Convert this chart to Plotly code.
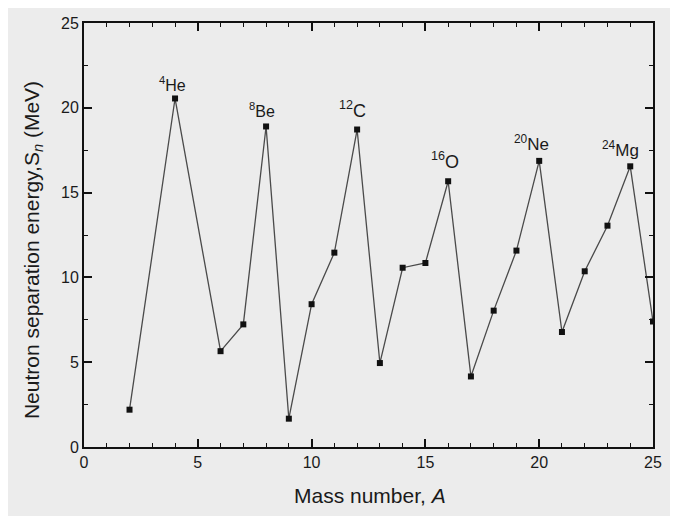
import plotly.graph_objects as go

mass_number = [2, 4, 6, 7, 8, 9, 10, 11, 12, 13, 14, 15, 16, 17, 18, 19, 20, 21, 22, 23, 24, 25]
sn_mev = [2.2, 20.55, 5.65, 7.23, 18.9, 1.67, 8.42, 11.46, 18.72, 4.95, 10.57, 10.85, 15.67,
          4.16, 8.04, 11.58, 16.87, 6.78, 10.36, 13.05, 16.55, 7.4]

label_text = ["<sup>4</sup>He", "<sup>8</sup>Be", "<sup>12</sup>C", "<sup>16</sup>O",
              "<sup>20</sup>Ne", "<sup>24</sup>Mg"]
label_x = [3.9, 7.8, 11.8, 15.85, 19.65, 23.55]
label_y = [21.4, 19.9, 19.9, 16.9, 17.9, 17.55]
label_size = [16, 16, 18, 18, 17, 17]

x_ticks = [0, 5, 10, 15, 20, 25]
y_ticks = [0, 5, 10, 15, 20, 25]

x_title = "Mass number, <i>A</i>"
y_title = "Neutron separation energy,S<sub><i>n</i></sub> (MeV)"

GRAY = "#ececec"
FONT = "Liberation Sans, Arial, sans-serif"
TXT = "#1a1a1a"

fig = go.Figure()
fig.add_trace(go.Scatter(
    x=mass_number, y=sn_mev, mode="lines+markers",
    line=dict(color="#4a4a4a", width=1.3),
    marker=dict(symbol="square", size=6, color="#111111"),
    showlegend=False,
))

for t, x, y, s in zip(label_text, label_x, label_y, label_size):
    fig.add_annotation(x=x, y=y, text=t, showarrow=False,
                       font=dict(family=FONT, size=s, color=TXT))

fig.add_annotation(xref="paper", yref="paper", x=0.503, y=-0.114, text=x_title,
                   showarrow=False, xanchor="center", yanchor="middle",
                   font=dict(family=FONT, size=21, color=TXT))
fig.add_annotation(xref="paper", yref="paper", x=-0.090, y=0.464, text=y_title,
                   showarrow=False, xanchor="center", yanchor="middle", textangle=-90,
                   font=dict(family=FONT, size=21, color=TXT))

axis_common = dict(
    showgrid=False, zeroline=False, showline=True, linecolor="#111111", linewidth=2,
    mirror="ticks", ticks="inside", ticklen=8, tickwidth=1.5, tickcolor="#111111",
    tickfont=dict(family=FONT, size=16, color=TXT), automargin=False,
)

fig.update_xaxes(range=[0, 25], tickvals=x_ticks,
                 minor=dict(dtick=1, ticks="inside", ticklen=4, tickwidth=1.3, tickcolor="#111111"),
                 **axis_common)
fig.update_yaxes(range=[0, 25], tickvals=y_ticks,
                 minor=dict(dtick=2.5, ticks="inside", ticklen=4, tickwidth=1.3, tickcolor="#111111"),
                 **axis_common)

fig.update_layout(
    width=664, height=508,
    margin=dict(l=76, r=19, t=15, b=69),
    paper_bgcolor=GRAY, plot_bgcolor=GRAY,
    font=dict(family=FONT),
)

fig.write_html("out.html")
